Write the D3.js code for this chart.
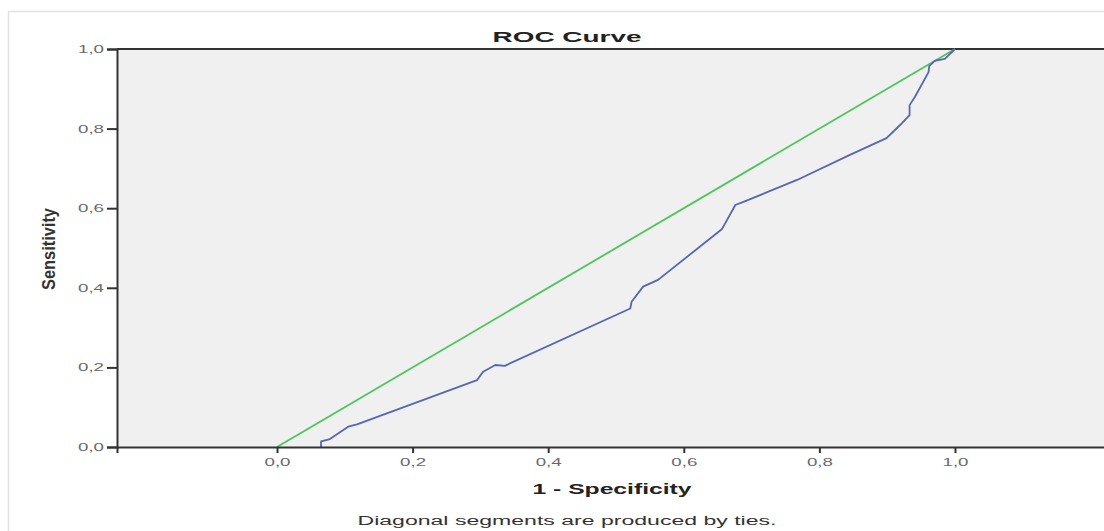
<!DOCTYPE html>
<html>
<head>
<meta charset="utf-8">
<script src="https://cdn.jsdelivr.net/npm/d3@7"></script>
<style>
  body { margin: 0; background: #fff; }
  text { font-family: "Liberation Sans", Arial, sans-serif; }
</style>
</head>
<body>
<div id="roc"></div>
<script>
// ROC curve points (1 - specificity, sensitivity)
var fpr = [0.065, 0.065, 0.078, 0.105, 0.118, 0.295, 0.304, 0.322, 0.336, 0.521, 0.523, 0.540, 0.562, 0.656, 0.661, 0.676, 0.688, 0.767, 0.845, 0.899, 0.919, 0.933, 0.933, 0.941, 0.961, 0.962, 0.970, 0.985, 1.0];
var tpr = [0.000, 0.014, 0.020, 0.051, 0.057, 0.168, 0.189, 0.206, 0.204, 0.348, 0.365, 0.403, 0.420, 0.547, 0.562, 0.608, 0.616, 0.671, 0.734, 0.776, 0.809, 0.834, 0.859, 0.880, 0.942, 0.957, 0.970, 0.975, 1.0];
// reference diagonal
var refLine = [0, 1];
var tickVals = [0, 0.2, 0.4, 0.6, 0.8, 1.0];

var W = 1104, H = 531;
var plot = {left: 117, top: 49, right: 1115, bottom: 447};

var svg = d3.select("#roc").append("svg")
    .attr("width", W)
    .attr("height", H);

// outer frame
svg.append("rect")
    .attr("x", 8.5).attr("y", 11.5)
    .attr("width", W + 20).attr("height", H + 20)
    .attr("fill", "#fff")
    .attr("stroke", "#e2e2e2")
    .attr("stroke-width", 1.5);

var x = d3.scaleLinear()
    .domain([-0.236, 1.236])
    .range([plot.left, plot.right]);
var y = d3.scaleLinear()
    .domain([0, 1])
    .range([plot.bottom, plot.top]);

var fmt = function(d) { return d3.format(".1f")(d).replace(".", ","); };

// plot background
svg.append("rect")
    .attr("x", plot.left).attr("y", plot.top)
    .attr("width", plot.right - plot.left)
    .attr("height", plot.bottom - plot.top)
    .attr("fill", "#f0f0f0");

// top border
svg.append("line")
    .attr("x1", plot.left).attr("x2", plot.right)
    .attr("y1", plot.top).attr("y2", plot.top)
    .attr("stroke", "#333").attr("stroke-width", 2);

// diagonal reference
svg.append("line")
    .attr("x1", x(refLine[0])).attr("y1", y(refLine[0]))
    .attr("x2", x(refLine[1])).attr("y2", y(refLine[1]))
    .attr("stroke", "#4fc45c")
    .attr("stroke-width", 1.8);

// ROC curve
var pts = fpr.map(function(d, i) { return [d, tpr[i]]; });
svg.append("path")
    .datum(pts)
    .attr("fill", "none")
    .attr("stroke", "#5566b4")
    .attr("stroke-width", 1.8)
    .attr("stroke-linejoin", "round")
    .attr("d", d3.line()
      .x(function(d) { return x(d[0]); })
      .y(function(d) { return y(d[1]); }));

// X axis
var gx = svg.append("g")
    .attr("transform", "translate(0," + plot.bottom + ")")
    .call(d3.axisBottom(x).tickValues(tickVals).tickFormat(fmt).tickSizeOuter(0).tickSize(6).tickPadding(6));

// Y axis
var gy = svg.append("g")
    .attr("transform", "translate(" + plot.left + ",0)")
    .call(d3.axisLeft(y).tickValues(tickVals).tickFormat(fmt).tickSizeOuter(0).tickSize(10).tickPadding(3));

[gx, gy].forEach(function(g) {
  g.select(".domain").attr("stroke", "#333").attr("stroke-width", 2);
  g.selectAll(".tick line").attr("stroke", "#333").attr("stroke-width", 2);
  g.selectAll(".tick text")
    .attr("fill", "#6a6a6a")
    .style("font-size", "11px")
    .attr("textLength", 26)
    .attr("lengthAdjust", "spacingAndGlyphs");
});
gx.selectAll(".tick text").attr("y", 11);

// title
svg.append("text")
    .attr("x", 567).attr("y", 42)
    .attr("text-anchor", "middle")
    .style("font-size", "14px")
    .style("font-weight", "bold")
    .attr("fill", "#222")
    .attr("textLength", 149)
    .attr("lengthAdjust", "spacingAndGlyphs")
    .text("ROC Curve");

// x label
svg.append("text")
    .attr("x", 612).attr("y", 494)
    .attr("text-anchor", "middle")
    .style("font-size", "15px")
    .style("font-weight", "bold")
    .attr("fill", "#222")
    .attr("textLength", 159)
    .attr("lengthAdjust", "spacingAndGlyphs")
    .text("1 - Specificity");

// y label
svg.append("text")
    .attr("transform", "translate(55,249) rotate(-90)")
    .attr("text-anchor", "middle")
    .style("font-size", "18px")
    .style("font-weight", "bold")
    .attr("fill", "#333")
    .attr("textLength", 82)
    .attr("lengthAdjust", "spacingAndGlyphs")
    .text("Sensitivity");

// footnote
svg.append("text")
    .attr("x", 567).attr("y", 525)
    .attr("text-anchor", "middle")
    .style("font-size", "12.5px")
    .attr("fill", "#333")
    .attr("textLength", 419)
    .attr("lengthAdjust", "spacingAndGlyphs")
    .text("Diagonal segments are produced by ties.");
</script>
</body>
</html>
